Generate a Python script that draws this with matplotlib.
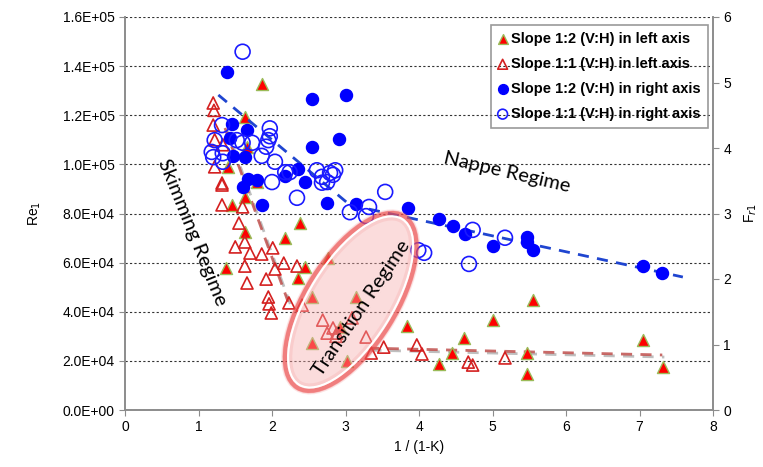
import matplotlib
matplotlib.use('Agg')
import matplotlib.pyplot as plt
import matplotlib.patheffects as pe
from matplotlib.patches import Ellipse

# Slope 1:2 (V:H), left axis  -> filled red triangles
s12_left_x = [1.86, 1.63, 1.66, 1.40, 1.79, 1.63, 1.45, 2.38, 1.63, 2.18, 1.38, 2.45,
              2.36, 2.54, 2.76, 2.93, 3.14, 2.54, 3.02, 3.84, 4.61, 4.45, 4.27, 5.47,
              5.47, 7.05, 7.32, 5.00, 5.55]
s12_left_re = [1.327e5, 1.193e5, 1.07e5, 0.99e5, 0.93e5, 0.867e5, 0.835e5, 0.761e5,
               0.725e5, 0.70e5, 0.578e5, 0.582e5, 0.537e5, 0.46e5, 0.619e5, 0.338e5,
               0.46e5, 0.273e5, 0.20e5, 0.342e5, 0.293e5, 0.232e5, 0.187e5, 0.232e5,
               0.147e5, 0.285e5, 0.175e5, 0.366e5, 0.448e5]

# Slope 1:1 (V:H), left axis -> hollow red triangles
s11_left_x = [1.20, 1.21, 1.20, 1.22, 1.33, 1.22, 1.32, 1.32, 1.32, 1.60, 1.55, 1.63,
              1.50, 1.70, 1.86, 2.01, 1.63, 1.66, 1.92, 2.04, 2.16, 2.34, 1.95, 1.96,
              1.99, 2.23, 2.41, 2.69, 2.75, 2.88, 2.83, 2.87, 3.09, 3.28, 3.35, 3.52,
              3.97, 4.04, 4.67, 4.73, 5.17]
s11_left_re = [1.25e5, 1.22e5, 1.16e5, 1.10e5, 1.08e5, 0.99e5, 0.924e5, 0.916e5,
               0.835e5, 0.827e5, 0.761e5, 0.684e5, 0.664e5, 0.639e5, 0.635e5, 0.66e5,
               0.586e5, 0.517e5, 0.533e5, 0.574e5, 0.598e5, 0.586e5, 0.46e5, 0.432e5,
               0.395e5, 0.436e5, 0.427e5, 0.366e5, 0.313e5, 0.313e5, 0.334e5, 0.30e5,
               0.375e5, 0.297e5, 0.232e5, 0.256e5, 0.265e5, 0.228e5, 0.195e5, 0.183e5,
               0.212e5]

# Slope 1:2 (V:H), right axis -> filled blue circles
s12_right_x = [1.39, 2.54, 3.00, 1.46, 1.66, 2.91, 2.54, 1.43, 1.47, 1.63, 1.67, 1.79,
               1.60, 2.18, 2.45, 2.35, 1.86, 2.75, 3.14, 3.85, 4.27, 4.46, 4.63, 5.47,
               5.01, 5.47, 5.55, 7.05, 7.31]
s12_right_fr = [5.16, 4.75, 4.81, 4.37, 4.27, 4.14, 4.02, 4.15, 3.88, 3.86, 3.53, 3.51,
                3.40, 3.57, 3.48, 3.68, 3.13, 3.16, 3.14, 3.08, 2.92, 2.81, 2.69, 2.64,
                2.50, 2.56, 2.44, 2.20, 2.09]

# Slope 1:1 (V:H), right axis -> hollow blue circles
s11_right_x = [1.60, 1.32, 1.97, 1.97, 1.95, 1.22, 1.52, 1.73, 1.60, 1.92, 1.18, 1.33,
               1.20, 1.86, 1.33, 2.04, 2.18, 2.24, 2.00, 2.61, 2.68, 2.79, 2.86, 2.68,
               2.75, 2.34, 3.06, 2.83, 3.54, 3.32, 3.28, 4.73, 5.17, 3.99, 4.07, 4.68]
s11_right_fr = [5.47, 4.35, 4.30, 4.18, 4.12, 4.12, 4.12, 4.08, 4.08, 4.02, 3.94, 3.92,
                3.86, 3.88, 3.79, 3.79, 3.63, 3.63, 3.48, 3.66, 3.56, 3.62, 3.66, 3.47,
                3.48, 3.24, 3.02, 3.59, 3.33, 3.10, 2.96, 2.75, 2.63, 2.44, 2.40, 2.23]

# trend lines (dashed)
red_trend1_x, red_trend1_re = [1.36, 2.22], [1.148e5, 0.44e5]
red_trend2_x, red_trend2_re = [3.31, 7.31], [0.252e5, 0.224e5]
blue_trend1_x, blue_trend1_fr = [1.27, 3.06], [4.81, 3.13]
blue_trend2_x, blue_trend2_fr = [3.06, 7.59], [3.13, 2.03]

x_ticks = [0, 1, 2, 3, 4, 5, 6, 7, 8]
left_ticks = [0, 2e4, 4e4, 6e4, 8e4, 1e5, 1.2e5, 1.4e5, 1.6e5]
right_ticks = [0, 1, 2, 3, 4, 5, 6]

plt.rcParams['font.family'] = ['Liberation Sans', 'DejaVu Sans']

fig = plt.figure(figsize=(7.63, 4.67), dpi=100)
ax = fig.add_axes([125 / 763, 1 - 410 / 467, 588 / 763, 393 / 467])
ax2 = ax.twinx()

ax.set_xlim(0, 8)
ax.set_ylim(0, 1.6e5)
ax2.set_ylim(0, 6)
ax.set_xticks(x_ticks)
ax.set_yticks(left_ticks)
ax.set_yticklabels(['%.1E' % v for v in left_ticks])
ax2.set_yticks(right_ticks)

ax.yaxis.grid(True, linestyle=(0, (2, 2)), color='#333333', linewidth=0.8)
ax.set_axisbelow(True)

for a in (ax, ax2):
    a.spines['top'].set_visible(False)
    for s in ('left', 'right', 'bottom'):
        a.spines[s].set_color('#8c8c8c')
        a.spines[s].set_linewidth(1.2)
    a.tick_params(colors='#8c8c8c', labelcolor='black', labelsize=10, length=4)

shadow = [pe.SimpleLineShadow(offset=(1.5, -1.5), alpha=0.25), pe.Normal()]

# left axis data
ax.plot(red_trend1_x, red_trend1_re, color='#c0504d', lw=2, ls=(0, (4, 3)), alpha=0.85,
        path_effects=shadow, zorder=2)
ax.plot(red_trend2_x, red_trend2_re, color='#c0504d', lw=2, ls=(0, (4, 3)), alpha=0.85,
        path_effects=shadow, zorder=2)
h1 = ax.scatter(s12_left_x, s12_left_re, marker='^', s=75, color='#ff0000',
                edgecolors='#9bbb59', linewidths=1.0, zorder=3,
                label='Slope 1:2 (V:H) in left axis')
h2 = ax.scatter(s11_left_x, s11_left_re, marker='^', s=75, facecolors='none',
                edgecolors='#d42020', linewidths=1.2, zorder=3,
                label='Slope 1:1 (V:H) in left axis')

# right axis data
ax2.plot(blue_trend1_x, blue_trend1_fr, color='#1f45d0', lw=2, ls=(0, (4, 3)), zorder=2)
ax2.plot(blue_trend2_x, blue_trend2_fr, color='#1f45d0', lw=2, ls=(0, (4, 3)), zorder=2)
h3 = ax2.scatter(s12_right_x, s12_right_fr, marker='o', s=75, color='#0000ff',
                 edgecolors='#0000ff', zorder=3, label='Slope 1:2 (V:H) in right axis')
h4 = ax2.scatter(s11_right_x, s11_right_fr, marker='o', s=115, facecolors='none',
                 edgecolors='#1a1aff', linewidths=1.2, zorder=3,
                 label='Slope 1:1 (V:H) in right axis')

ax.set_xlabel('1 / (1-K)', fontsize=10)
ax.set_ylabel('Re$_1$', fontsize=10, labelpad=14)
ax2.set_ylabel('F$_{r1}$', fontsize=10, labelpad=8)

# transition region ellipse (sized in inches so it keeps its screen shape)
cx, cy = ax.transData.transform((3.07, 4.40e4)) / fig.dpi
ell_w, ell_h, ell_ang = 2.04, 0.92, 58
for grow, lw, alpha in [(0.06, 8, 0.15), (0.04, 5, 0.3), (0.02, 3, 0.55)]:
    ax2.add_patch(Ellipse((cx, cy), ell_w - grow, ell_h - grow, angle=ell_ang,
                          transform=fig.dpi_scale_trans, facecolor='none',
                          edgecolor='#ec4f4f', lw=lw, alpha=alpha, zorder=4))
ax2.add_patch(Ellipse((cx, cy), ell_w - 0.09, ell_h - 0.09, angle=ell_ang,
                      transform=fig.dpi_scale_trans, facecolor=(0.97, 0.68, 0.68, 0.42),
                      edgecolor='white', lw=1.6, zorder=4))

ann = dict(family=['Lato', 'DejaVu Sans'], fontsize=14.5, ha='center', va='center', zorder=6)
ax2.text(0.91, 7.25e4 / 1.6e5 * 6, 'Skimming Regime', rotation=-68, **ann)
ax2.text(5.2, 9.69e4 / 1.6e5 * 6, 'Nappe Regime', rotation=-13, **ann)
ax2.text(3.22, 4.15e4 / 1.6e5 * 6, 'Transition Regime', rotation=56, **ann)

leg = ax2.legend(handles=[h1, h2, h3, h4], loc='upper right', bbox_to_anchor=(0.992, 0.98),
                 prop={'weight': 'bold', 'size': 10.5}, frameon=True, fancybox=False,
                 edgecolor='#808080', handlelength=0.6, handletextpad=0.3,
                 labelspacing=0.75, borderpad=0.5, borderaxespad=0, scatterpoints=1)
leg.get_frame().set_facecolor('none')
leg.get_frame().set_linewidth(1.2)
leg.set_zorder(7)
for h in leg.legend_handles:
    h.set_sizes([50])

fig.savefig('out.png', dpi=100)
